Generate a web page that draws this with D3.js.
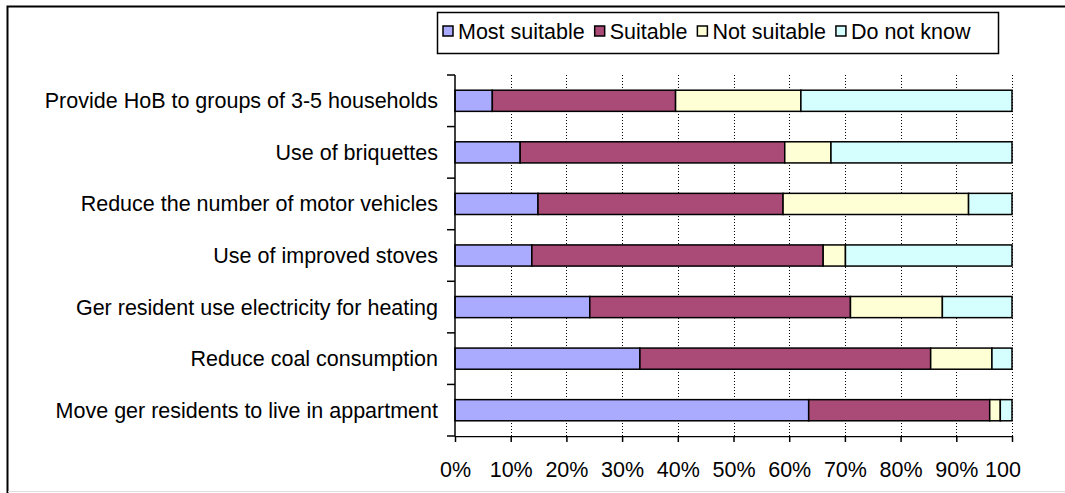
<!DOCTYPE html>
<html>
<head>
<meta charset="utf-8">
<script src="https://cdn.jsdelivr.net/npm/d3@7"></script>
<style>
  body { margin: 0; background: #fff; }
  text { font-family: "Liberation Sans", Arial, sans-serif; fill: #000; }
</style>
</head>
<body>
<div id="chart"></div>
<script>
(function () {
    var width = 1065,
        height = 493;

    // data (percent of respondents)
    var categories = [
        "Provide HoB to groups of 3-5 households",
        "Use of briquettes",
        "Reduce the number of motor vehicles",
        "Use of improved stoves",
        "Ger resident use electricity for heating",
        "Reduce coal consumption",
        "Move ger residents to live in appartment"
    ];
    var seriesNames = ["Most suitable", "Suitable", "Not suitable", "Do not know"];
    var mostSuitable = [6.7, 11.7, 14.9, 13.8, 24.2, 33.2, 63.5];
    var suitable     = [32.9, 47.5, 44.0, 52.3, 46.8, 52.2, 32.5];
    var notSuitable  = [22.5, 8.3, 33.3, 4.0, 16.5, 11.0, 1.9];
    var doNotKnow    = [37.9, 32.5, 7.8, 29.9, 12.5, 3.6, 2.1];
    var tickValues = [0, 10, 20, 30, 40, 50, 60, 70, 80, 90, 100];

    var colors = ["#AAAAFF", "#AA4A76", "#FFFFD5", "#D5FFFF"];
    var fontSize = 21.5;

    var rows = categories.map(function (c, i) {
        return {
            cat: c,
            "Most suitable": mostSuitable[i],
            "Suitable": suitable[i],
            "Not suitable": notSuitable[i],
            "Do not know": doNotKnow[i]
        };
    });

    var svg = d3.select("#chart")
        .append("svg")
        .attr("width", width)
        .attr("height", height);

    // outer frame (right edge runs off the page)
    svg.append("path")
        .attr("d", "M7.5,493 L7.5,6.5 L1070,6.5")
        .attr("fill", "none")
        .attr("stroke", "#000")
        .attr("stroke-width", 2);
    svg.append("line")
        .attr("x1", 8).attr("x2", width)
        .attr("y1", 491.5).attr("y2", 491.5)
        .attr("stroke", "#ddd");

    var x = d3.scaleLinear().domain([0, 100]).range([455, 1012]);
    var y = d3.scaleBand().domain(categories).range([75, 436]).paddingInner(0.59).paddingOuter(0.295);

    // dotted gridlines
    svg.append("g").selectAll("line")
        .data(tickValues.slice(1))
        .enter().append("line")
        .attr("x1", function (d) { return Math.round(x(d)) + 0.5; })
        .attr("x2", function (d) { return Math.round(x(d)) + 0.5; })
        .attr("y1", 75).attr("y2", 436)
        .attr("stroke", "#000")
        .attr("stroke-dasharray", "1,2");

    var stack = d3.stack().keys(seriesNames)(rows);

    svg.append("g").selectAll("g")
        .data(stack)
        .enter().append("g")
        .attr("fill", function (d, i) { return colors[i]; })
        .selectAll("rect")
        .data(function (d) { return d; })
        .enter().append("rect")
        .attr("x", function (d) { return x(d[0]); })
        .attr("width", function (d) { return x(d[1]) - x(d[0]); })
        .attr("y", function (d) { return y(d.data.cat); })
        .attr("height", y.bandwidth())
        .attr("stroke", "#000")
        .attr("stroke-width", 1.5);

    // y axis: line + ticks at band boundaries
    var bounds = d3.range(categories.length + 1).map(function (i) { return 75 + i * (361 / categories.length); });
    svg.append("line")
        .attr("x1", 455).attr("x2", 455)
        .attr("y1", 75).attr("y2", 436)
        .attr("stroke", "#000").attr("stroke-width", 1.5);
    svg.append("g").selectAll("line")
        .data(bounds)
        .enter().append("line")
        .attr("x1", 447).attr("x2", 455)
        .attr("y1", function (d) { return d; })
        .attr("y2", function (d) { return d; })
        .attr("stroke", "#000").attr("stroke-width", 1.5);

    svg.append("g").selectAll("text")
        .data(categories)
        .enter().append("text")
        .attr("x", 438)
        .attr("y", function (d) { return y(d) + y.bandwidth() / 2; })
        .attr("dy", "0.35em")
        .attr("text-anchor", "end")
        .attr("font-size", fontSize)
        .text(function (d) { return d; });

    // x axis
    var clip = svg.append("defs").append("clipPath").attr("id", "xclip");
    clip.append("rect").attr("x", 0).attr("y", 0).attr("width", 1021).attr("height", height);

    var xAxis = svg.append("g")
        .attr("transform", "translate(0,436)")
        .attr("clip-path", "url(#xclip)")
        .call(d3.axisBottom(x).tickValues(tickValues).tickSize(6).tickSizeOuter(0)
            .tickFormat(function (d) { return d + "%"; }));
    xAxis.select(".domain").attr("stroke-width", 1.5);
    xAxis.selectAll(".tick line").attr("stroke-width", 1.5);
    xAxis.selectAll(".tick text")
        .attr("font-size", fontSize)
        .attr("font-family", "Liberation Sans, Arial, sans-serif")
        .attr("y", 33)
        .attr("dy", "0.35em");

    // legend
    var legend = svg.append("g");
    legend.append("rect")
        .attr("x", 437.5).attr("y", 12.5)
        .attr("width", 561).attr("height", 41)
        .attr("fill", "#fff")
        .attr("stroke", "#000").attr("stroke-width", 1.5);

    var lx = 443;
    seriesNames.forEach(function (name, i) {
        legend.append("rect")
            .attr("x", lx).attr("y", 26)
            .attr("width", 10).attr("height", 10)
            .attr("fill", colors[i])
            .attr("stroke", "#000").attr("stroke-width", 1.5);
        var t = legend.append("text")
            .attr("x", lx + 15).attr("y", 31)
            .attr("dy", "0.35em")
            .attr("font-size", fontSize)
            .text(name);
        lx = lx + 15 + t.node().getComputedTextLength() + 10;
    });
})();
</script>
</body>
</html>
